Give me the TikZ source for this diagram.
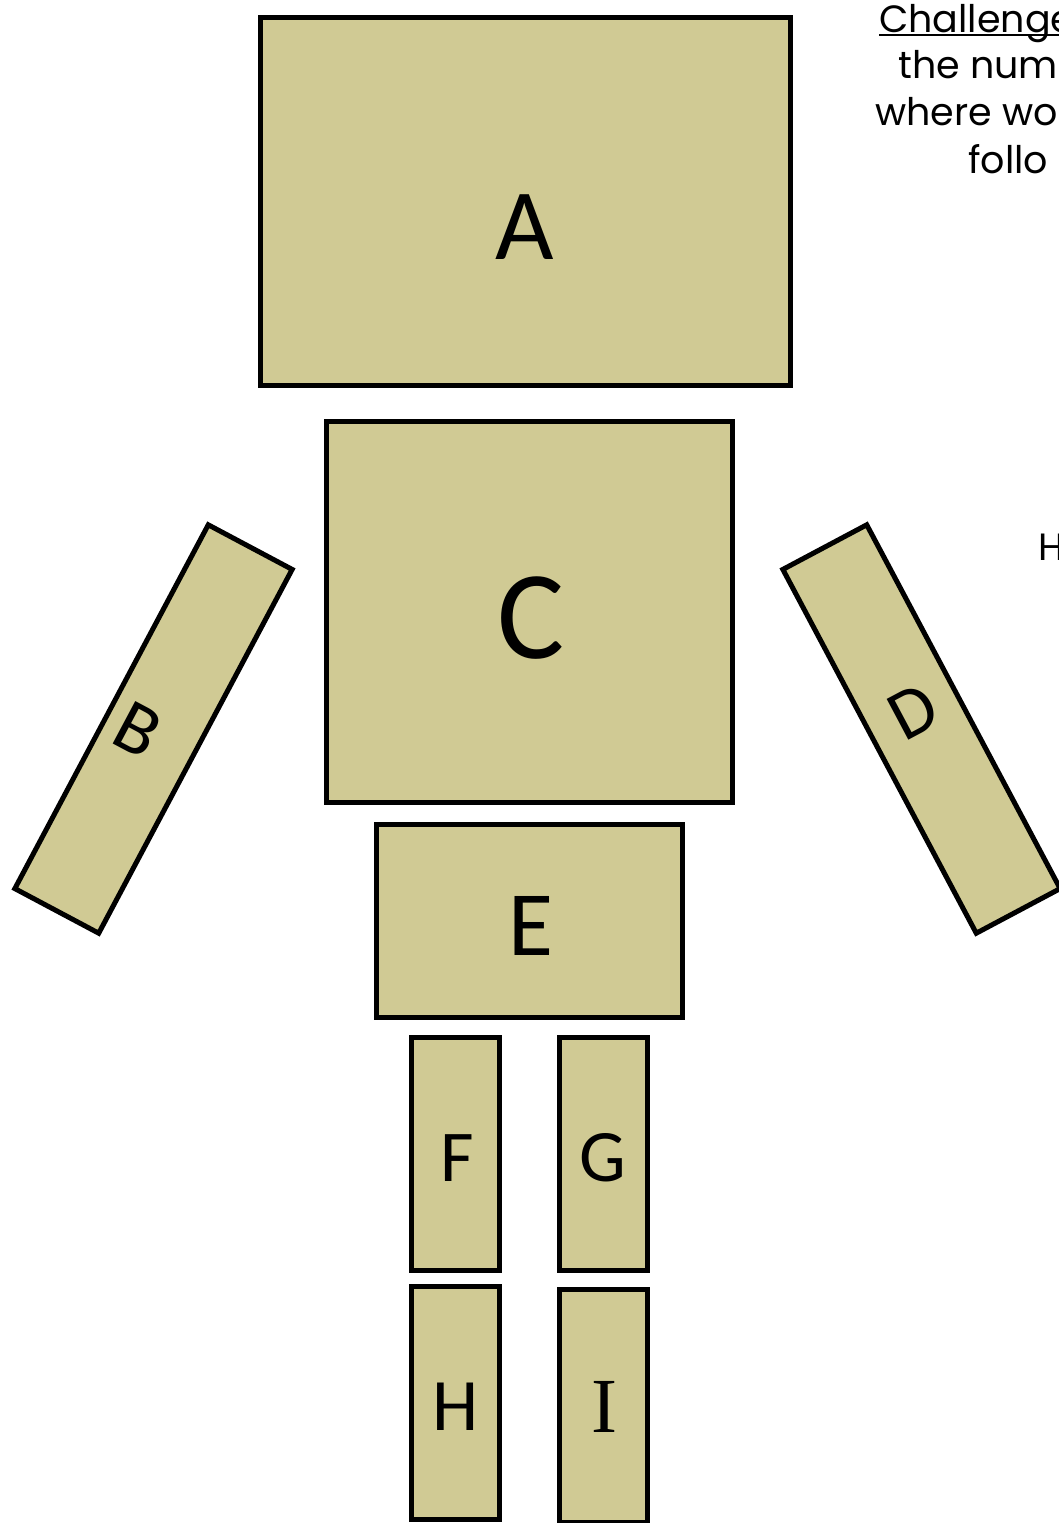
\documentclass[tikz,border=0pt]{standalone}
\usepackage{fontspec}
\setmainfont{Carlito}
\newfontfamily\handfont{Poppins}
\newfontfamily\seriffont{Liberation Serif}
\usepackage{tikz}
\usetikzlibrary{positioning, calc}
\definecolor{mKhaki}{HTML}{D0CA94}
\tikzset{
  part/.style={draw=black, line width=5pt, fill=mKhaki, inner sep=0pt, outer sep=0pt},
  tag/.style={inner sep=0pt, anchor=base, font=\fontsize{#1}{#1}\selectfont},
  note/.style={inner sep=0pt, anchor=base west, font=\handfont\fontsize{38}{38}\selectfont}
}

\begin{document}
\begin{tikzpicture}[x=1pt, y=-1pt]
    \useasboundingbox (0,0) rectangle (1059,1523);
    \clip (0,0) rectangle (1059,1523);
    \node[part, minimum width=530pt, minimum height=368pt] (head) at (525.5,201.5) {};
    \node[part, minimum width=406pt, minimum height=381pt] (body) at (529.5,612) {};
    \node[part, minimum width=306pt, minimum height=193pt] (hips) at (529.5,921) {};
    \node[part, minimum width=88pt, minimum height=233pt] (thighL) at (455.5,1154) {};
    \node[part, minimum width=88pt, minimum height=233pt] (thighR) at (603.5,1154) {};
    \node[part, minimum width=88pt, minimum height=233pt] (shinL) at (455.5,1403) {};
    \node[part, minimum width=88pt, minimum height=233pt] (shinR) at (603.5,1406) {};
    \node[part, minimum width=95pt, minimum height=412pt, rotate=-28] (armL) at (153.5,729) {};
    \node[part, minimum width=95pt, minimum height=412pt, rotate=28] (armR) at (921.5,729) {};
    \node[tag=101] (headT) at (525,259) {A};
    \node[tag=126] (bodyT) at (531,658) {C};
    \node[tag=92] (hipsT) at (531,955) {E};
    \node[tag=73] (thighLT) at (457,1181) {F};
    \node[tag=74] (thighRT) at (603,1181) {G};
    \node[tag=74] (shinLT) at (456,1430) {H};
    \node[tag=78, font=\seriffont\fontsize{78}{78}\selectfont] (shinRT) at (604,1432) {I};
    \node[tag=75, anchor=center, rotate=-28] (armLT) at (138,730) {B};
    \node[tag=72, anchor=center, rotate=28] (armRT) at (913,712) {D};
    \node[note] (chal) at (879,32) {Challenge};
    \draw[line width=1.8pt] ([yshift=-3pt]chal.base west) -- ([yshift=-3pt]chal.base east);
    \node[note] (line1) at (898,78) {the num};
    \node[note] (line2) at (875,125) {where wo};
    \node[note] (line3) at (968,173) {follo};
    \node[note] (side) at (1038,560) {H};
\end{tikzpicture}
\end{document}
